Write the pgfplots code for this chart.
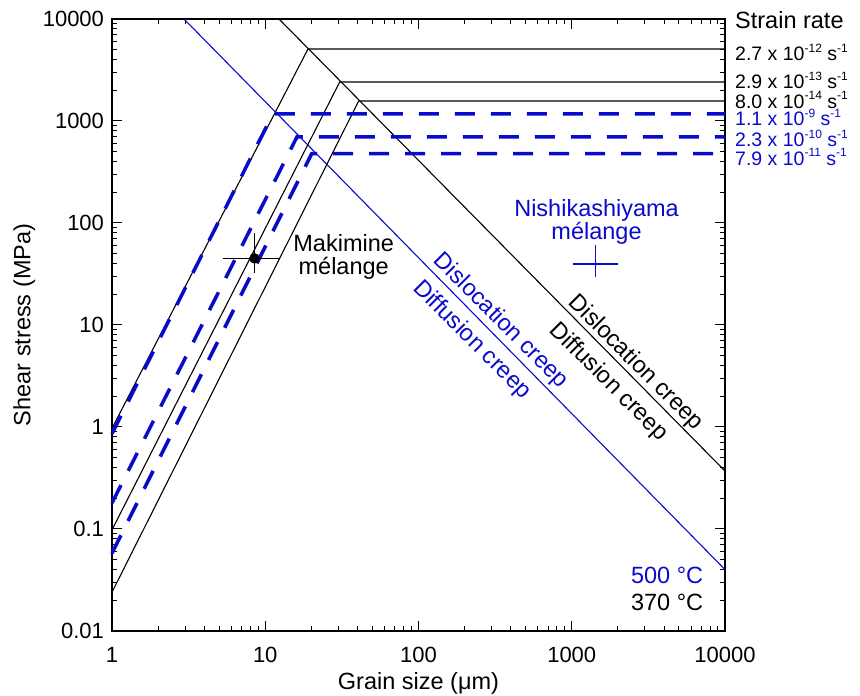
\documentclass[border=0pt]{standalone}
\usepackage{pgfplots}
\pgfplotsset{compat=1.18}
\usepackage{fontspec}
\setmainfont{Liberation Sans}
\definecolor{myblue}{RGB}{10,10,205}
\newcommand{\sups}[1]{\raisebox{0.42em}{\fontsize{12}{12}\selectfont #1}}
\begin{document}
\fontsize{23.5}{27}\selectfont
\begin{tikzpicture}
\begin{axis}[
  scale only axis, width=613pt, height=612pt,
  xmode=log, ymode=log,
  xmin=1, xmax=10000, ymin=0.01, ymax=10000,
  xtick={1,10,100,1000,10000}, xticklabels={1,10,100,1000,10000},
  ytick={0.01,0.1,1,10,100,1000,10000}, yticklabels={0.01,0.1,1,10,100,1000,10000},
  minor xtick={2,3,4,5,6,7,8,9,20,30,40,50,60,70,80,90,200,300,400,500,600,700,800,900,2000,3000,4000,5000,6000,7000,8000,9000},
  minor ytick={0.02,0.03,0.04,0.05,0.06,0.07,0.08,0.09,0.2,0.3,0.4,0.5,0.6,0.7,0.8,0.9,2,3,4,5,6,7,8,9,20,30,40,50,60,70,80,90,200,300,400,500,600,700,800,900,2000,3000,4000,5000,6000,7000,8000,9000},
  tick align=inside, major tick length=10pt, minor tick length=5pt,
  every tick/.style={black, line width=1pt},
  axis line style={line width=1.2pt},
  /pgf/number format/assume math mode=true,
  tick label style={font=\fontsize{22}{26}\selectfont},
  xticklabel style={yshift=-8pt},
  xlabel={Grain size (μm)},
  ylabel={Shear stress (MPa)},
  xlabel style={at={(axis description cs:0.5,-0.086)}, anchor=center},
  ylabel style={at={(axis description cs:-0.143,0.5)}, anchor=center},
  clip=false,
]
% boundaries
\addplot[black, line width=1.1pt] coordinates {(12.3,10000) (10000,0.37)};
\addplot[myblue, line width=1.1pt] coordinates {(2.95,10000) (10000,0.04)};
% 370 C strain-rate lines
\addplot[black, line width=1.1pt] coordinates {(1,0.97) (19.0,5080) (10000,5080)};
\addplot[black, line width=1.1pt] coordinates {(1,0.098) (30.6,2410) (10000,2410)};
\addplot[black, line width=1.1pt] coordinates {(1,0.024) (40.7,1570) (10000,1570)};
% 500 C strain-rate lines
\addplot[myblue, line width=3.5pt, dash pattern=on 20pt off 16pt] coordinates {(1,0.86) (11.2,1172) (10000,1172)};
\addplot[myblue, line width=3.5pt, dash pattern=on 20pt off 16pt] coordinates {(1,0.18) (16.1,697) (10000,697)};
\addplot[myblue, line width=3.5pt, dash pattern=on 20pt off 16pt] coordinates {(1,0.058) (20.1,478) (10000,478)};
% Makimine data
\addplot[black, line width=1.2pt, mark=none, error bars/.cd, x dir=both, x explicit,
  error bar style={line width=1.2pt}, error mark options={line width=1.2pt, mark size=4pt}]
  coordinates {(8.5,45) += (3.2,0) -= (2.9,0)};
\addplot[black, line width=1.2pt, mark=none, error bars/.cd, y dir=both, y explicit,
  error bar style={line width=1.2pt}, error mark=none]
  coordinates {(8.5,45) += (0,35) -= (0,13)};
\addplot[black, only marks, mark=*, mark size=5pt] coordinates {(8.5,45)};
% Nishikashiyama data
\addplot[myblue, line width=1.2pt, mark=none, error bars/.cd, x dir=both, y dir=both, x explicit, y explicit,
  error bar style={line width=1.2pt, myblue}, error mark=none]
  coordinates {(1430,39.6) += (588,21.2) -= (418,10.1)};
% texts
\node[anchor=center] at (axis cs:32.5,63.7) {Makimine};
\node[anchor=center] at (axis cs:32.5,36.2) {mélange};
\node[anchor=center, text=myblue] at (axis cs:1452,134) {Nishikashiyama};
\node[anchor=center, text=myblue] at (axis cs:1452,79.8) {mélange};
\node[rotate=-45, text=myblue] at (axis cs:343.6,10.9) {Dislocation creep};
\node[rotate=-45, text=myblue] at (axis cs:222,7.13) {Diffusion creep};
\node[rotate=-45] at (axis cs:2606,4.24) {Dislocation creep};
\node[rotate=-45] at (axis cs:1738,2.76) {Diffusion creep};
\node[anchor=east, inner sep=0pt, text=myblue] at (axis cs:7230,0.0354) {500 °C};
\node[anchor=east, inner sep=0pt] at (axis cs:7230,0.0192) {370 °C};
% strain-rate labels
\node[anchor=west, inner sep=0pt, xshift=10pt] at (axis cs:10000,9780) {Strain rate};
\begin{scope}[every node/.style={anchor=west, inner sep=0pt, xshift=10pt, font=\fontsize{19.5}{22}\selectfont}]
\node at (axis cs:10000,4740) {2.7 x 10\sups{-12} s\sups{-1}};
\node at (axis cs:10000,2520) {2.9 x 10\sups{-13} s\sups{-1}};
\node at (axis cs:10000,1607) {8.0 x 10\sups{-14} s\sups{-1}};
\node[text=myblue] at (axis cs:10000,1094) {1.1 x 10\sups{-9} s\sups{-1}};
\node[text=myblue] at (axis cs:10000,681) {2.3 x 10\sups{-10} s\sups{-1}};
\node[text=myblue] at (axis cs:10000,444) {7.9 x 10\sups{-11} s\sups{-1}};
\end{scope}
\end{axis}
\pgfresetboundingbox
\useasboundingbox (-112pt,-65pt) rectangle (748pt,631pt);
\end{tikzpicture}
\end{document}
